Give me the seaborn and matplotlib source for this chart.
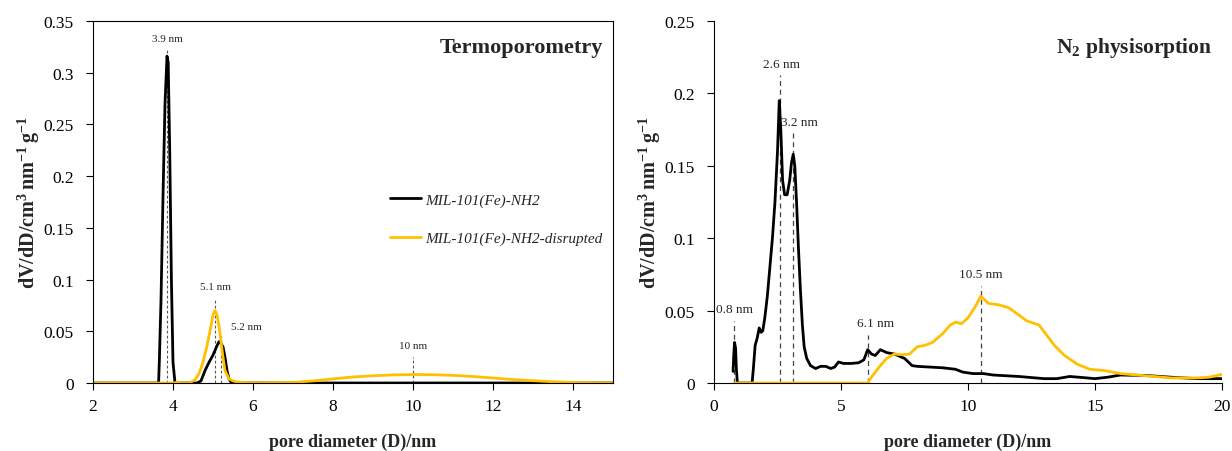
import numpy as np
import pandas as pd
import matplotlib
matplotlib.use("Agg")
import matplotlib.pyplot as plt
import seaborn as sns

# ---------------- data ----------------
# Termoporometry, MIL-101(Fe)-NH2
tp_black_x = [2.0, 3.60, 3.64, 3.66, 3.70, 3.75, 3.80, 3.85, 3.88, 3.92, 3.96, 4.00, 4.05, 4.10,
              4.60, 4.70, 4.80, 4.90, 5.00, 5.10, 5.15, 5.20, 5.25, 5.30, 5.35, 5.40, 5.45, 5.50, 15.0]
tp_black_y = [0.0, 0.0, 0.0, 0.023, 0.08, 0.18, 0.27, 0.316, 0.31, 0.22, 0.10, 0.02, 0.0, 0.0,
              0.0, 0.002, 0.012, 0.020, 0.027, 0.036, 0.040, 0.038, 0.035, 0.025, 0.012, 0.004, 0.001, 0.0, 0.0]
# Termoporometry, MIL-101(Fe)-NH2-disrupted
tp_yel_x = [2.0, 4.05, 4.10, 4.20, 4.40, 4.55, 4.65, 4.75, 4.85, 4.95, 5.00, 5.05, 5.10, 5.15, 5.20,
            5.25, 5.30, 5.40, 5.50, 5.60, 6.0, 7.0, 7.5, 8.0, 8.5, 9.0, 9.5, 10.0, 10.5, 11.0,
            11.5, 12.0, 12.5, 13.0, 13.5, 14.0, 14.5, 15.0]
tp_yel_y = [0.0, 0.0, 0.001, 0.0, 0.0, 0.003, 0.009, 0.020, 0.036, 0.055, 0.066, 0.070, 0.066, 0.055, 0.040,
            0.025, 0.012, 0.004, 0.002, 0.001, 0.0, 0.0005, 0.002, 0.004, 0.0058, 0.0070, 0.0078, 0.0082, 0.0080, 0.0074,
            0.0063, 0.0048, 0.0034, 0.0022, 0.0012, 0.0005, 0.0001, 0.0]

# N2 physisorption, MIL-101(Fe)-NH2
n2_black_x = [0.75, 0.78, 0.81, 0.85, 0.88, 0.92, 1.5, 1.55, 1.62, 1.70, 1.78, 1.85, 1.92, 2.0, 2.1,
              2.2, 2.3, 2.4, 2.5, 2.57, 2.63, 2.70, 2.78, 2.88, 2.98, 3.05, 3.12, 3.18, 3.25, 3.32,
              3.40, 3.48, 3.55, 3.65, 3.80, 4.0, 4.2, 4.4, 4.6, 4.75, 4.9, 5.1, 5.4, 5.7, 5.9,
              6.05, 6.2, 6.35, 6.55, 6.8, 7.1, 7.5, 7.8, 8.0, 8.5, 9.0, 9.5, 9.8, 10.2, 10.6,
              11.0, 12.0, 13.0, 13.5, 14.0, 14.5, 15.0, 15.5, 16.0, 17.0, 18.0, 19.0, 20.0]
n2_black_y = [0.008, 0.020, 0.028, 0.024, 0.010, 0.0, 0.0, 0.010, 0.026, 0.031, 0.038, 0.035, 0.036, 0.045, 0.060,
              0.080, 0.100, 0.125, 0.160, 0.195, 0.175, 0.140, 0.130, 0.130, 0.140, 0.152, 0.158, 0.150, 0.125, 0.095,
              0.065, 0.040, 0.025, 0.017, 0.012, 0.010, 0.0115, 0.0115, 0.010, 0.011, 0.0145, 0.0135, 0.0135, 0.014, 0.016,
              0.023, 0.020, 0.019, 0.023, 0.021, 0.020, 0.017, 0.012, 0.0115, 0.011, 0.0105, 0.0095, 0.0075, 0.0065, 0.0065,
              0.0055, 0.0045, 0.003, 0.003, 0.0045, 0.0038, 0.003, 0.004, 0.0055, 0.0052, 0.004, 0.003, 0.003]
# N2 physisorption, MIL-101(Fe)-NH2-disrupted
n2_yel_x = [0.8, 6.05, 6.2, 6.5, 6.8, 7.1, 7.4, 7.7, 8.0, 8.3, 8.6, 9.0, 9.3, 9.5, 9.75, 10.0, 10.3,
            10.5, 10.8, 11.2, 11.6, 12.0, 12.3, 12.8, 13.1, 13.4, 13.8, 14.3, 14.8, 15.4, 16.0, 17.0,
            18.0, 19.0, 19.5, 20.0]
n2_yel_y = [0.0, 0.0, 0.004, 0.011, 0.017, 0.020, 0.0195, 0.020, 0.025, 0.026, 0.028, 0.034, 0.040, 0.042, 0.041, 0.045, 0.053,
            0.060, 0.055, 0.054, 0.052, 0.047, 0.043, 0.040, 0.033, 0.026, 0.019, 0.013, 0.0095, 0.0085, 0.0065, 0.005,
            0.0035, 0.0035, 0.004, 0.006]

# peak annotations: (x, top of dashed line, label)
tp_peaks_x = [3.85, 5.05, 5.2, 10.0]
tp_peaks_top = [0.322, 0.082, 0.045, 0.025]
tp_peaks_lbl = ["3.9 nm", "5.1 nm", "5.2 nm", "10 nm"]
n2_peaks_x = [0.8, 2.6, 3.1, 6.05, 10.5]
n2_peaks_top = [0.043, 0.213, 0.173, 0.033, 0.067]
n2_peaks_lbl = ["0.8 nm", "2.6 nm", "3.2 nm", "6.1 nm", "10.5 nm"]

names = ["MIL-101(Fe)-NH2", "MIL-101(Fe)-NH2-disrupted"]
colors = {names[0]: "#000000", names[1]: "#FFC000"}

tp = pd.concat([
    pd.DataFrame({"x": tp_black_x, "y": tp_black_y, "s": names[0]}),
    pd.DataFrame({"x": tp_yel_x, "y": tp_yel_y, "s": names[1]}),
])
n2 = pd.concat([
    pd.DataFrame({"x": n2_black_x, "y": n2_black_y, "s": names[0]}),
    pd.DataFrame({"x": n2_yel_x, "y": n2_yel_y, "s": names[1]}),
])

# ---------------- plot ----------------
sns.set_theme(style="white")
plt.rcParams["font.family"] = ["Liberation Serif", "DejaVu Serif"]
plt.rcParams["mathtext.fontset"] = "custom"
plt.rcParams["mathtext.rm"] = "Liberation Serif"
plt.rcParams["mathtext.bf"] = "Liberation Serif:bold"

fig = plt.figure(figsize=(12.32, 4.52), dpi=100)
ax1 = fig.add_axes([93/1232, 68/452, 520/1232, 362/452])
ax2 = fig.add_axes([714/1232, 68/452, 508/1232, 362/452])

sns.lineplot(data=tp, x="x", y="y", hue="s", palette=colors, ax=ax1, linewidth=2.0,
             sort=False, estimator=None)
sns.lineplot(data=n2, x="x", y="y", hue="s", palette=colors, ax=ax2, linewidth=2.0,
             sort=False, estimator=None, legend=False)

# dashed peak markers
for xv, top, lbl in zip(tp_peaks_x, tp_peaks_top, tp_peaks_lbl):
    ax1.plot([xv, xv], [0, top], ls=(0, (2.5, 2)), color="#555555", lw=0.8, zorder=1)
lbl_pos1 = [(3.85, 0.329, "center"), (5.05, 0.089, "center"), (5.45, 0.050, "left"), (10.0, 0.032, "center")]
for (px, py, ha), lbl in zip(lbl_pos1, tp_peaks_lbl):
    ax1.text(px, py, lbl, fontsize=8, ha=ha, va="bottom")

for xv, top in zip(n2_peaks_x, n2_peaks_top):
    ax2.plot([xv, xv], [0, top], ls=(0, (4, 3)), color="#444444", lw=0.9, zorder=1)
lbl_pos2 = [(0.8, 0.047, "center"), (2.65, 0.216, "center"), (3.35, 0.176, "center"), (6.35, 0.037, "center"), (10.5, 0.071, "center")]
for (px, py, ha), lbl in zip(lbl_pos2, n2_peaks_lbl):
    ax2.text(px, py, lbl, fontsize=9.5, ha=ha, va="bottom")

# axes formatting
ylab = r"$\mathbf{dV/dD/cm^{3}\,nm^{-1}\,g^{-1}}$"
for ax in (ax1, ax2):
    ax.set_ylabel(ylab, fontsize=14.5, labelpad=1)
    ax.set_xlabel("pore diameter (D)/nm", fontsize=13, fontweight="bold", labelpad=13)
    ax.tick_params(axis="both", which="major", direction="out", length=5, width=0.8,
                   labelsize=12.5, bottom=True, left=True, colors="black")
    ax.tick_params(axis="y", pad=9)
    ax.tick_params(axis="x", pad=6)
    for sp in ax.spines.values():
        sp.set_color("black")
        sp.set_linewidth(0.8)

ax1.set_xlim(2, 15)
ax1.set_ylim(0, 0.35)
ax1.set_xticks([2, 4, 6, 8, 10, 12, 14])
ax1.set_yticks([0, 0.05, 0.1, 0.15, 0.2, 0.25, 0.3, 0.35])
ax1.set_yticklabels(["0", "0.05", "0.1", "0.15", "0.2", "0.25", "0.3", "0.35"])
ax1.text(0.98, 0.955, "Termoporometry", transform=ax1.transAxes, ha="right", va="top",
         fontsize=16, fontweight="bold")

ax2.set_xlim(0, 20)
ax2.set_ylim(0, 0.25)
ax2.set_xticks([0, 5, 10, 15, 20])
ax2.set_yticks([0, 0.05, 0.1, 0.15, 0.2, 0.25])
ax2.set_yticklabels(["0", "0.05", "0.1", "0.15", "0.2", "0.25"])
ax2.spines["top"].set_visible(False)
ax2.spines["right"].set_visible(False)
ax2.text(0.98, 0.96, r"$\mathbf{N_2}$ physisorption", transform=ax2.transAxes, ha="right", va="top",
         fontsize=15.5, fontweight="bold")

leg = ax1.legend(title=None, loc="center left", bbox_to_anchor=(0.545, 0.453), frameon=False,
                 fontsize=11, handlelength=2.0, handletextpad=0.3, labelspacing=1.6)
for t in leg.get_texts():
    t.set_fontstyle("italic")

fig.savefig("out.png", dpi=100)
